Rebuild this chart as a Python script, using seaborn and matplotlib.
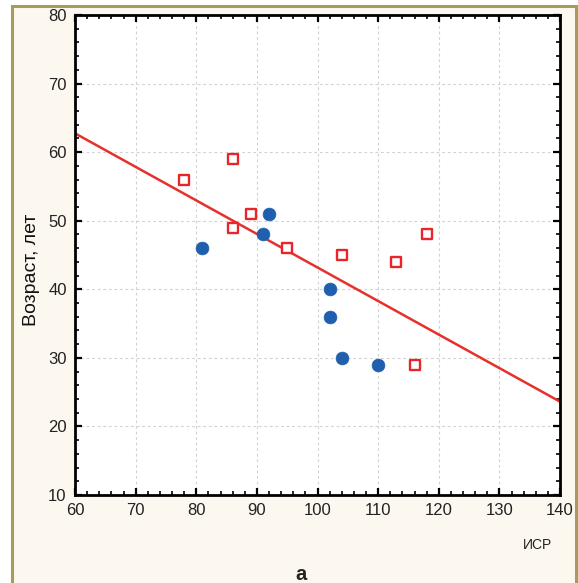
import numpy as np
import pandas as pd
import matplotlib
matplotlib.use("Agg")
import matplotlib.pyplot as plt
from matplotlib.patches import Rectangle
from matplotlib.ticker import MultipleLocator
import seaborn as sns

# Group 1 (filled circles)
isr_g1 = [81, 92, 91, 102, 102, 104, 110]
age_g1 = [46, 51, 48, 40, 36, 30, 29]
# Group 2 (open squares)
isr_g2 = [78, 86, 89, 86, 95, 104, 113, 118, 116]
age_g2 = [56, 59, 51, 49, 46, 45, 44, 48, 29]

x_ticks = [60, 70, 80, 90, 100, 110, 120, 130, 140]
y_ticks = [10, 20, 30, 40, 50, 60, 70, 80]

df = pd.DataFrame({
    "isr": isr_g1 + isr_g2,
    "age": age_g1 + age_g2,
    "group": ["g1"] * len(isr_g1) + ["g2"] * len(isr_g2),
})

sns.set_style("ticks")
plt.rcParams["font.family"] = ["Liberation Sans", "DejaVu Sans"]

fig = plt.figure(figsize=(5.78, 5.83), dpi=100)
fig.patch.set_facecolor("white")

# cream panel with olive frame
panel = Rectangle((12 / 578, -0.05), (576 - 12) / 578, (583 - 6) / 583 + 0.05,
                  transform=fig.transFigure, facecolor="#fcf8ef",
                  edgecolor="#a69d5c", linewidth=2.2, zorder=-5)
fig.patches.append(panel)

ax = fig.add_axes([75 / 578, (583 - 495) / 583, (560 - 75) / 578, (495 - 15) / 583])
ax.set_zorder(1)
ax.set_facecolor("white")
ax.set_xlim(60, 140)
ax.set_ylim(10, 80)

ax.grid(True, which="major", color="#d2d2d2", linestyle=(0, (2.5, 2.5)), linewidth=0.8)
ax.set_axisbelow(True)

# regression line over all observations
sns.regplot(data=df, x="isr", y="age", ax=ax, scatter=False, ci=None,
            truncate=False, line_kws=dict(color="#e8302a", linewidth=1.8, zorder=2))

sns.scatterplot(data=df[df.group == "g1"], x="isr", y="age", ax=ax, marker="o",
                s=85, color="#1f5fae", edgecolor="#1f5fae", linewidth=0.5, zorder=3)
sns.scatterplot(data=df[df.group == "g2"], x="isr", y="age", ax=ax, marker="s",
                s=58, facecolor="white", edgecolor="#e8262a", linewidth=1.7, zorder=3)

ax.set_xlim(60, 140)
ax.set_ylim(10, 80)
ax.set_xticks(x_ticks)
ax.set_yticks(y_ticks)
ax.xaxis.set_minor_locator(MultipleLocator(2))
ax.yaxis.set_minor_locator(MultipleLocator(2))
ax.tick_params(which="major", direction="in", length=5, width=1.6,
               top=True, right=True, labelsize=12, colors="black", pad=6)
ax.tick_params(which="minor", direction="in", length=3, width=1.4,
               top=True, right=True)
for lab in ax.get_xticklabels() + ax.get_yticklabels():
    lab.set_color("#222222")
for sp in ax.spines.values():
    sp.set_visible(True)
    sp.set_linewidth(2.0)
    sp.set_color("black")

ax.set_xlabel("")
ax.set_ylabel("")
fig.text(31 / 578, 1 - 270 / 583, "Возраст, лет", rotation=90, ha="center",
         va="center", fontsize=14, color="#111111")
fig.text(537 / 578, 1 - 545 / 583, "ИСР", ha="center", va="center",
         fontsize=10, color="#222222")
fig.text(301 / 578, 1 - 575 / 583, "а", ha="center", va="center",
         fontsize=14.5, fontweight="bold", color="#222222")

fig.savefig("out.png", dpi=100, facecolor=fig.get_facecolor())
